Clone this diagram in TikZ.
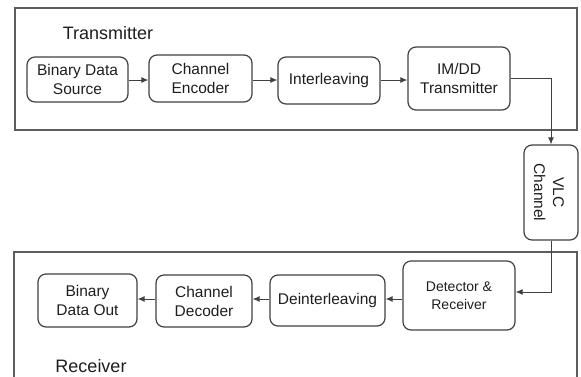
\documentclass[tikz,border=0pt]{standalone}
\usepackage{fontspec}
\setmainfont{Liberation Sans}
\usetikzlibrary{arrows.meta}
\definecolor{ln}{HTML}{404040}
\definecolor{tx}{HTML}{1E1E1E}
\begin{document}
\begin{tikzpicture}[x=1pt,y=-1pt,
  blk/.style={draw=ln, line width=1.2pt, rounded corners=8pt, align=center,
    inner sep=0pt, text=tx, font=\fontsize{15.5}{19}\selectfont},
  frame/.style={draw=ln!85, line width=1.5pt},
  lbl/.style={text=tx, font=\fontsize{18}{21}\selectfont, inner sep=0pt},
  conn/.style={draw=ln, line width=1pt, -{Latex[length=7pt,width=6pt]}}]
\useasboundingbox (0,0) rectangle (581,376);
% frames
\draw[frame] (15,8) rectangle (577,130);
\draw[frame] (14,380) -- (14,252) -- (577,252) -- (577,380);
\node[lbl] (tlab) at (108,33) {Transmitter};
\node[lbl] (rlab) at (91,366) {Receiver};
% transmitter row
\node[blk, minimum width=101, minimum height=45] (src) at (77.5,79.5) {Binary Data\\Source};
\node[blk, minimum width=103, minimum height=47] (enc) at (200.5,78.5) {Channel\\Encoder};
\node[blk, minimum width=102, minimum height=47] (intl) at (329,80.5) {Interleaving};
\node[blk, minimum width=102, minimum height=63] (imdd) at (459,78.5) {IM/DD\\Transmitter};
% channel
\node[blk, minimum width=54, minimum height=95] (vlc) at (551,192.5) {};
\node[rotate=-90, align=center, text=tx, inner sep=0pt, font=\fontsize{15.5}{19}\selectfont] (vlctext) at (549,192.5) {VLC\\Channel};
% receiver row
\node[blk, minimum width=99, minimum height=53] (out) at (87.5,300.5) {Binary\\Data Out};
\node[blk, minimum width=96, minimum height=52] (dec) at (204,301) {Channel\\Decoder};
\node[blk, minimum width=115, minimum height=51] (deint) at (327.5,300.5) {Deinterleaving};
\node[blk, minimum width=112, minimum height=69, font=\fontsize{14}{18}\selectfont] (det) at (459,295.5) {Detector \&\\Receiver};
% connectors
\draw[conn] (src.east |- 0,80) -- (enc.west |- 0,80);
\draw[conn] (enc.east |- 0,80) -- (intl.west |- 0,80);
\draw[conn] (intl.east |- 0,80) -- (imdd.west |- 0,80);
\draw[conn] (imdd.east |- 0,78) -| (vlc.north);
\draw[conn] (vlc.south) |- (det.east |- 0,292);
\draw[conn] (det.west |- 0,299) -- (deint.east |- 0,299);
\draw[conn] (deint.west |- 0,299) -- (dec.east |- 0,299);
\draw[conn] (dec.west |- 0,299) -- (out.east |- 0,299);
\end{tikzpicture}
\end{document}
